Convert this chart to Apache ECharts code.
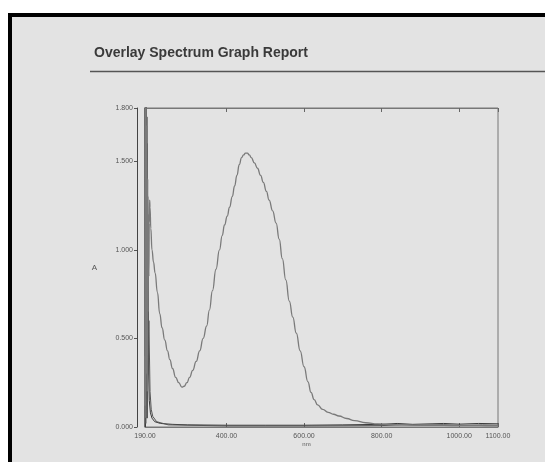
<!DOCTYPE html>
<html>
<head>
<meta charset="utf-8">
<style>
  html, body { margin: 0; padding: 0; background: #ffffff; }
  #chart { width: 545px; height: 462px; }
</style>
<script src="https://cdn.jsdelivr.net/npm/echarts@6/dist/echarts.min.js"></script>
</head>
<body>
<div id="chart"></div>
<script>
// Wavelength axis (nm) and absorbance axis tick positions
const xTicks = [190, 400, 600, 800, 1000, 1100];
const yTicks = [0, 0.5, 1.0, 1.5, 1.8];

// Sample spectrum: wavelength (nm) and absorbance
const sampleNm = [190,191,192,193,194,195,196,197,198,199,200,201,202,203,205,208,212,216,222,228,234,241,248,254,261,269,277,285,291,298,305,313,322,331,340,349,356,364,373,382,389,395,402,408,415,421,427,433,439,444,449,454,459,464,472,480,488,495,503,510,519,528,536,544,553,562,571,580,590,600,610,618,626,635,648,662,676,690,710,730,759,790,820,850,880,920,960,1000,1040,1070,1100];
const sampleAbs = [0.12,1.95,0.05,1.90,0.30,1.70,0.20,1.40,0.65,1.20,0.85,1.15,1.28,1.24,1.12,1.00,0.93,0.87,0.76,0.64,0.56,0.49,0.43,0.38,0.33,0.28,0.25,0.225,0.23,0.25,0.28,0.32,0.37,0.43,0.50,0.57,0.66,0.77,0.89,1.00,1.08,1.14,1.19,1.24,1.30,1.36,1.42,1.48,1.52,1.535,1.545,1.545,1.535,1.52,1.49,1.46,1.42,1.38,1.33,1.28,1.22,1.15,1.06,0.95,0.83,0.71,0.62,0.53,0.43,0.34,0.255,0.195,0.155,0.125,0.10,0.083,0.072,0.062,0.048,0.036,0.024,0.018,0.014,0.012,0.011,0.01,0.009,0.008,0.008,0.007,0.007];

// Blank / reference scans overlaid on the sample
const blankNm = [190,190.5,191.5,192.5,193.5,194.5,195.5,196.5,197.5,199,201,204,208,215,230,260,300,400,500,600,700,800,840,880,930,960,1000,1050,1100];
const blankAbs = [1.9,0.0,1.9,0.05,1.85,0.1,1.6,0.2,0.9,0.35,0.15,0.08,0.05,0.03,0.02,0.015,0.012,0.01,0.01,0.01,0.012,0.015,0.02,0.015,0.018,0.02,0.016,0.02,0.018];

const refNm = [190,191,192,193,194,195,196,197,198,200,203,206,210,220,250,400,600,800,850,900,960,1000,1060,1100];
const refAbs = [0.4,1.9,0.02,1.9,0.1,1.75,0.05,1.3,0.3,0.6,0.2,0.1,0.06,0.03,0.012,0.006,0.006,0.008,0.012,0.01,0.013,0.009,0.012,0.01];

const zip = (xs, ys) => xs.map((x, i) => [x, ys[i]]);

const chart = echarts.init(document.getElementById('chart'), null, { renderer: 'canvas' });

const axisText = { color: '#555', fontSize: 7, fontFamily: 'Liberation Sans, Arial, sans-serif' };

chart.setOption({
  backgroundColor: '#ffffff',
  animation: false,
  graphic: [
    {
      type: 'rect', z: -10, silent: true,
      shape: { x: 10, y: 15, width: 620, height: 520 },
      style: { fill: '#e3e3e3', stroke: '#000000', lineWidth: 4 }
    },
    {
      type: 'text', left: 94, top: 46, silent: true,
      style: {
        text: 'Overlay Spectrum Graph Report',
        fill: '#3a3a3a',
        font: 'bold 14px "Liberation Sans", Arial, sans-serif'
      }
    },
    {
      type: 'line', silent: true,
      shape: { x1: 90, y1: 71.5, x2: 545, y2: 71.5 },
      style: { stroke: '#555555', lineWidth: 1.5 }
    }
  ],
  grid: {
    left: 145, right: 47, top: 108, bottom: 35,
    show: true, borderColor: '#777', borderWidth: 1, backgroundColor: 'transparent'
  },
  xAxis: [
    {
      type: 'value', min: 190, max: 1100,
      name: 'nm', nameLocation: 'middle', nameGap: 14, nameMoveOverlap: false,
      nameTextStyle: Object.assign({}, axisText, { fontSize: 6, padding: [0, 30, 0, 0] }),
      axisLine: { show: true, lineStyle: { color: '#777', width: 1 } },
      axisTick: { show: true, inside: true, length: 4, customValues: xTicks, lineStyle: { color: '#666' } },
      axisLabel: Object.assign({ customValues: xTicks, margin: 6, formatter: v => v.toFixed(2) }, axisText),
      splitLine: { show: false }
    },
    {
      type: 'value', min: 190, max: 1100, position: 'top',
      axisLine: { show: true, lineStyle: { color: '#777' } },
      axisTick: { show: true, inside: true, length: 4, customValues: xTicks, lineStyle: { color: '#666' } },
      axisLabel: { show: false },
      splitLine: { show: false }
    }
  ],
  yAxis: {
    type: 'value', min: 0, max: 1.8, offset: 8,
    name: 'A', nameLocation: 'middle', nameGap: 40, nameRotate: 0,
    nameTextStyle: Object.assign({}, axisText, { fontSize: 8 }),
    axisLine: { show: true, lineStyle: { color: '#444', width: 1 } },
    axisTick: { show: true, length: 3, customValues: yTicks, lineStyle: { color: '#555' } },
    axisLabel: Object.assign({ customValues: yTicks, margin: 4, formatter: v => v.toFixed(3) }, axisText),
    splitLine: { show: false }
  },
  series: [
    {
      name: 'Blank', type: 'line', showSymbol: false, smooth: false,
      data: zip(blankNm, blankAbs),
      lineStyle: { color: '#3a3a3a', width: 1 }
    },
    {
      name: 'Reference', type: 'line', showSymbol: false, smooth: false,
      data: zip(refNm, refAbs),
      lineStyle: { color: '#555555', width: 1 }
    },
    {
      name: 'Sample', type: 'line', showSymbol: false, smooth: true, smoothMonotone: 'x',
      data: zip(sampleNm, sampleAbs),
      lineStyle: { color: '#7a7a7a', width: 1.3 }
    }
  ]
});
</script>
</body>
</html>
